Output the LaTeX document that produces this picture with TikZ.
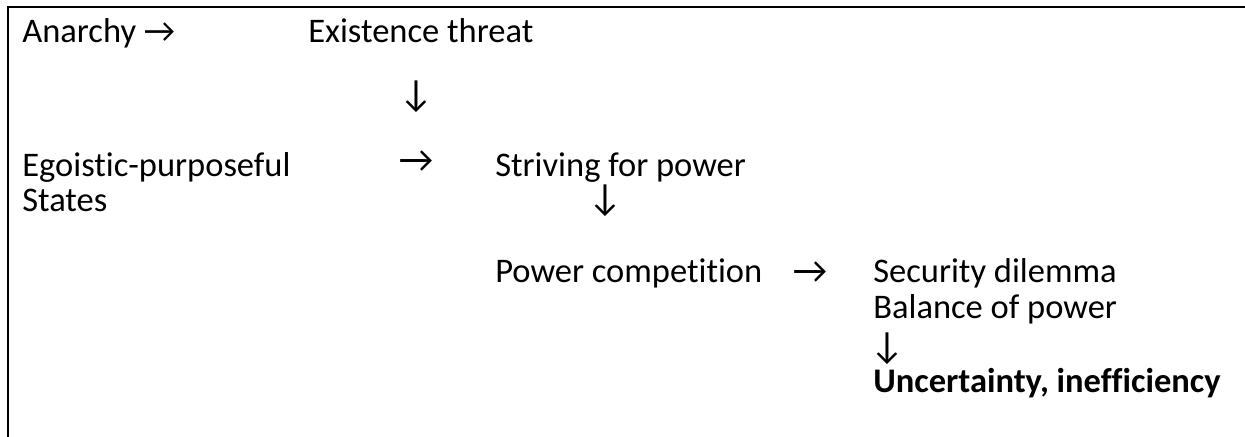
\documentclass[tikz,border=0pt]{standalone}
\usepackage{fontspec}
\setmainfont[Ligatures=NoCommon]{Carlito}
\begin{document}
\begin{tikzpicture}[x=0.5pt, y=-0.5pt, line width=1.3pt,
    txt/.style={anchor=base west, inner sep=0pt, font=\fontsize{17.25}{20}\selectfont},
    arr/.style={anchor=center, inner sep=0pt, font=\fontsize{19}{20}\selectfont}]
    \useasboundingbox (0,0) rectangle (1245,437);
    \draw (8,437) -- (8,7) -- (1245,7);

    \node[txt] (A) at (21,43) {Anarchy →};
    \node[txt] (E) at (307,43) {Existence threat};
    \node[arr] (d1) at (416,97) {↓};
    \node[txt] (G) at (21,177) {Egoistic-purposeful};
    \node[txt] (S) at (21,212) {States};
    \node[arr] (r1) at (416,162) {→};
    \node[txt] (P) at (494,177) {Striving for power};
    \node[arr] (d2) at (605,201) {↓};
    \node[txt] (C) at (494,283) {Power competition};
    \node[arr] (r2) at (810,273) {→};
    \node[txt] (D) at (872,283) {Security dilemma};
    \node[txt] (B) at (872,319) {Balance of power};
    \node[arr] (d3) at (887,349) {↓};
    \node[txt, font=\fontsize{17.25}{20}\selectfont\bfseries] (U) at (872,393) {Uncertainty, inefficiency};
\end{tikzpicture}
\end{document}
